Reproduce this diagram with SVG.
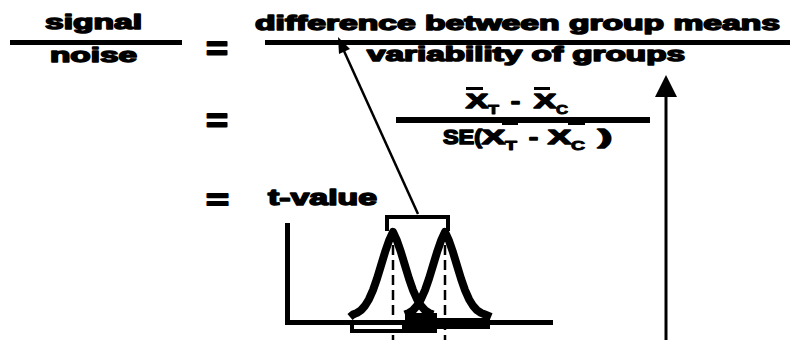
<svg xmlns="http://www.w3.org/2000/svg" width="790" height="340" viewBox="0 0 790 340">
<defs>
<style>
.t{font-family:"Liberation Sans",Arial,sans-serif;font-weight:bold;font-size:20px;fill:#000;stroke:#000;stroke-width:1.5px;stroke-linejoin:round}
.s{font-size:13px;stroke-width:0.9px}
.eq{font-size:34px;stroke-width:1.8px}
.bar{fill:#000}
.curve{fill:none;stroke:#000;stroke-width:8;stroke-linejoin:round}
.dash{stroke:#000;stroke-width:2.5;stroke-dasharray:10 5}
.conn{stroke:#000;fill:none}
</style>
</defs>
<rect width="790" height="340" fill="#fff"/>

<g id="signal-noise">
<text class="t" x="45" y="29" textLength="97" lengthAdjust="spacingAndGlyphs">signal</text>
<rect class="bar" x="10" y="40" width="172" height="5"/>
<text class="t" x="50" y="62" textLength="87" lengthAdjust="spacingAndGlyphs">noise</text>
</g>

<g id="equals">
<text class="t eq" x="206" y="59.5" textLength="22" lengthAdjust="spacingAndGlyphs">=</text>
<text class="t eq" x="206" y="131.5" textLength="22" lengthAdjust="spacingAndGlyphs">=</text>
<text class="t eq" x="206" y="210" textLength="23" lengthAdjust="spacingAndGlyphs" style="font-size:30px">=</text>
</g>

<g id="verbal-ratio">
<text class="t" x="255" y="30" textLength="525" lengthAdjust="spacingAndGlyphs">difference between group means</text>
<rect class="bar" x="265" y="40" width="525" height="5"/>
<text class="t" x="367" y="61" textLength="318" lengthAdjust="spacingAndGlyphs">variability of groups</text>
</g>

<g id="formula">
<rect class="bar" x="466" y="87" width="17" height="3"/>
<rect class="bar" x="534" y="87" width="16" height="3"/>
<text class="t" x="466" y="108" textLength="22" lengthAdjust="spacingAndGlyphs">X</text>
<text class="t s" x="488" y="114" textLength="11" lengthAdjust="spacingAndGlyphs">T</text>
<text class="t" x="511" y="108" textLength="9" lengthAdjust="spacingAndGlyphs">-</text>
<text class="t" x="534" y="108" textLength="22" lengthAdjust="spacingAndGlyphs">X</text>
<text class="t s" x="556" y="114" textLength="12" lengthAdjust="spacingAndGlyphs">C</text>
<rect class="bar" x="396" y="117" width="254" height="6"/>
<rect class="bar" x="502" y="122" width="16" height="3"/>
<rect class="bar" x="568" y="122" width="17" height="3"/>
<text class="t" x="443" y="144" textLength="39" lengthAdjust="spacingAndGlyphs">SE(</text>
<text class="t" x="482" y="144" textLength="23" lengthAdjust="spacingAndGlyphs">X</text>
<text class="t s" x="505" y="150" textLength="12" lengthAdjust="spacingAndGlyphs">T</text>
<text class="t" x="529" y="144" textLength="9" lengthAdjust="spacingAndGlyphs">-</text>
<text class="t" x="548" y="144" textLength="23" lengthAdjust="spacingAndGlyphs">X</text>
<text class="t s" x="571" y="150" textLength="14" lengthAdjust="spacingAndGlyphs">C</text>
<text class="t" x="598" y="144" textLength="14" lengthAdjust="spacingAndGlyphs">)</text>
</g>

<g id="t-value">
<text class="t" x="268" y="205" textLength="109" lengthAdjust="spacingAndGlyphs" style="font-size:22px">t-value</text>
</g>

<g id="chart">
<rect class="bar" x="285" y="223" width="5" height="102"/>
<rect class="bar" x="285" y="320" width="268" height="5"/>
<path d="M387,231 V217 H448 V231" fill="none" stroke="#000" stroke-width="4"/>
<line class="dash" x1="393" y1="245" x2="393" y2="340"/>
<line class="dash" x1="445" y1="245" x2="445" y2="340"/>
<polyline class="curve" points="350,317 353,314.5 357,312.9 361,310.2 365,305.8 369,299.2 373,290.1 377,278.6 381,265.5 385,252.3 389,240.7 393,232 397,240.7 401,252.3 405,265.5 409,278.6 413,290.1 417,299.2 421,305.8 425,310.2 429,312.9 433,314.5"/>
<polyline class="curve" points="405,314.5 409,312.9 413,310.2 417,305.8 421,299.2 425,290.1 429,278.6 433,265.5 437,252.3 441,240.7 445,232 449,240.7 453,252.3 457,265.5 461,278.6 465,290.1 469,299.2 473,305.8 477,310.2 481,312.9 485,314.5 491,317"/>
<rect x="352" y="323" width="52" height="8" fill="#fff" stroke="#000" stroke-width="4"/>
<rect class="bar" x="405" y="313" width="32" height="20"/>
<rect class="bar" x="437" y="318" width="53" height="11"/>
</g>

<g id="connectors">
<line class="conn" x1="418" y1="214" x2="344" y2="51" stroke-width="2.5"/>
<polygon points="338,37 350,49 339,54" fill="#000"/>
<line class="conn" x1="666" y1="340" x2="666" y2="95" stroke-width="3"/>
<polygon points="666,75 655,97 677,97" fill="#000"/>
</g>
</svg>
